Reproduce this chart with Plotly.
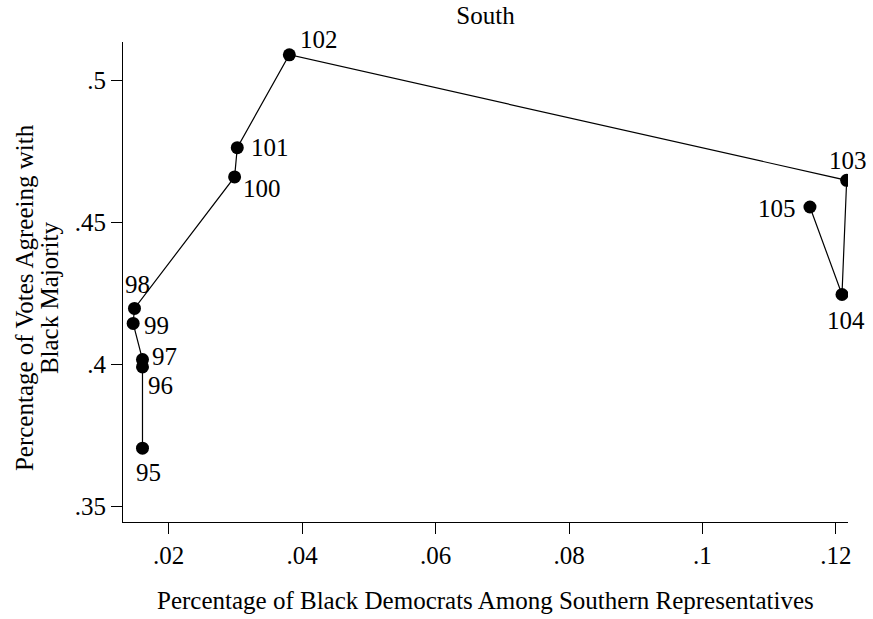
import plotly.graph_objects as go

# ---- data (listed in the order the line connects them) ----
congress = ["95", "96", "97", "99", "98", "100", "101", "102", "103", "104", "105"]
pct_black_dem = [0.0161, 0.0161, 0.0161, 0.0147, 0.0149, 0.0299, 0.0303, 0.0381, 0.1216, 0.1209, 0.1161]
pct_agree = [0.3705, 0.3991, 0.4017, 0.4144, 0.4197, 0.4660, 0.4763, 0.5090, 0.4648, 0.4246, 0.4554]

x_ticks = [0.02, 0.04, 0.06, 0.08, 0.10, 0.12]
x_ticklabels = [".02", ".04", ".06", ".08", ".1", ".12"]
y_ticks = [0.35, 0.40, 0.45, 0.50]
y_ticklabels = [".35", ".4", ".45", ".5"]

# ---- styling: label offsets (pixels) per congress ----
label_offsets = {
    "95": (6, 24), "96": (18, 19), "97": (22, -3), "98": (3, -24), "99": (23, 2),
    "100": (27, 12), "101": (33, 0), "102": (30, -15), "103": (1, -20),
    "104": (4, 26), "105": (-33, 1),
}

FONT = "Liberation Serif"
FS = 25

fig = go.Figure()
fig.add_trace(go.Scatter(
    x=pct_black_dem, y=pct_agree, mode="lines+markers",
    line=dict(color="black", width=1.2),
    marker=dict(color="black", size=13),
    hoverinfo="skip", showlegend=False,
))

for c, xv, yv in zip(congress, pct_black_dem, pct_agree):
    dx, dy = label_offsets[c]
    fig.add_annotation(x=xv, y=yv, xref="x", yref="y", text=c, showarrow=False,
                       xanchor="center", yanchor="middle", xshift=dx, yshift=-dy,
                       font=dict(family=FONT, size=FS, color="black"))

# y-axis title, two tight lines
fig.add_annotation(xref="paper", yref="paper", x=-0.1366, y=0.4685, text="Percentage of Votes Agreeing with",
                   textangle=-90, showarrow=False, xanchor="center", yanchor="middle",
                   font=dict(family=FONT, size=FS, color="black"))
fig.add_annotation(xref="paper", yref="paper", x=-0.1021, y=0.4685, text="Black Majority",
                   textangle=-90, showarrow=False, xanchor="center", yanchor="middle",
                   font=dict(family=FONT, size=FS, color="black"))
# x-axis title
fig.add_annotation(xref="paper", yref="paper", x=0.5, y=-0.164,
                   text="Percentage of Black Democrats Among Southern Representatives",
                   showarrow=False, xanchor="center", yanchor="middle",
                   font=dict(family=FONT, size=FS, color="black"))

fig.update_layout(
    width=873, height=619,
    margin=dict(l=123, r=25, t=42, b=97),
    paper_bgcolor="white", plot_bgcolor="white",
    font=dict(family=FONT, size=FS, color="black"),
    title=dict(text="South", x=0.5, xref="paper", y=1 - 15.5 / 619, yref="container",
               xanchor="center", yanchor="middle", font=dict(family=FONT, size=FS, color="black")),
    xaxis=dict(range=[0.01318, 0.1218], tickvals=x_ticks, ticktext=x_ticklabels,
               showgrid=False, zeroline=False, showline=True, linecolor="black", linewidth=1.2,
               ticks="outside", ticklen=11, tickwidth=1.2, tickcolor="black",
               tickfont=dict(family=FONT, size=FS, color="black")),
    yaxis=dict(range=[0.3445, 0.5135], tickvals=y_ticks, ticktext=y_ticklabels,
               showgrid=False, zeroline=False, showline=True, linecolor="black", linewidth=1.2,
               ticks="outside", ticklen=11, tickwidth=1.2, tickcolor="black",
               tickfont=dict(family=FONT, size=FS, color="black")),
)

fig.write_html("out.html")
